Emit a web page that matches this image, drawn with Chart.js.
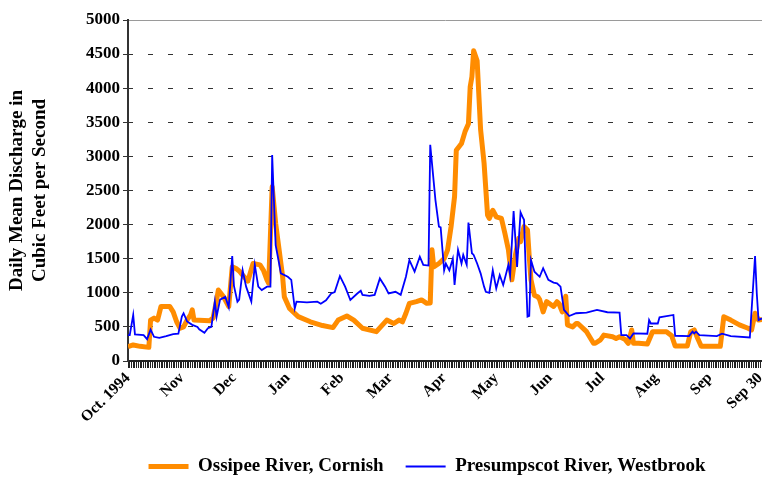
<!DOCTYPE html>
<html>
<head>
<meta charset="utf-8">
<script src="https://cdn.jsdelivr.net/npm/chart.js@4.4.1/dist/chart.umd.min.js"></script>
<style>
html, body { margin: 0; padding: 0; background: #fff; }
</style>
</head>
<body>
<canvas id="chart" width="762" height="477"></canvas>
<script>
// days counted from Oct 1 1994 (day 0) to Sep 30 1995 (day 364)
const monthDays = [0, 31, 61, 92, 123, 151, 182, 212, 243, 273, 304, 335, 364];
const monthLabels = ['Oct. 1994', 'Nov', 'Dec', 'Jan', 'Feb', 'Mar', 'Apr', 'May', 'Jun', 'Jul', 'Aug', 'Sep', 'Sep 30'];

const ossipeeDays = [0, 3, 7, 12, 13, 15, 17, 18, 19, 24, 26, 28, 30, 32, 34, 36, 37, 38, 47, 49, 51, 52, 55, 58,
    60, 62, 64, 66, 69, 72, 76, 78, 80, 81, 83, 85, 87, 89, 90, 93, 98, 105, 112, 118, 121, 126, 130, 135, 143,
    149, 153, 156, 158, 160, 162, 166, 169, 172, 174, 175, 176, 179, 182, 184, 186, 188, 189, 192, 194, 196, 197,
    198, 199, 201, 203, 205, 207, 208, 210, 212, 215, 217, 219, 221, 223, 225, 226, 228, 230, 231, 232, 234, 236,
    237, 239, 241, 245, 247, 248, 250, 252, 253, 256, 258, 259, 264, 268, 269, 272, 274, 279, 281, 283, 286, 288,
    290, 291, 294, 299, 302, 310, 313, 315, 322, 324, 326, 328, 330, 341, 343, 347, 352, 357, 359, 361, 363, 365];
const ossipeeCfs = [210, 235, 215, 200, 600, 630, 600, 700, 800, 800, 720, 575, 480, 500, 600, 675, 750, 600, 590, 630, 890, 1040, 940, 800,
    1380, 1360, 1320, 1260, 1170, 1430, 1410, 1330, 1190, 1140, 2555, 2020, 1630, 1240, 940, 770, 650, 575, 520, 490, 600, 660, 600, 480, 430,
    600, 550, 600, 575, 700, 845, 870, 895, 845, 850, 1630, 1380, 1430, 1500, 1630, 1970, 2410, 3090, 3190, 3360, 3480, 4020,
    4170, 4550, 4400, 3390, 2900, 2140, 2090, 2210, 2115, 2090, 1870, 1630, 1190, 1550, 1800, 1750, 1970, 1920, 1530, 1190, 960, 940,
    900, 720, 870, 800, 870, 845, 720, 950, 530, 500, 550, 550, 430, 260, 260, 310, 380, 355, 330, 355, 320, 260,
    455, 260, 260, 250, 430, 430, 370, 220, 220, 430, 455, 330, 215, 215, 650, 600, 530, 480, 455, 700, 600, 610];

const presumpscotDays = [0, 1, 3, 4, 9, 11, 13, 15, 18, 22, 26, 29, 31, 32, 34, 37, 40, 41, 44, 46, 48, 50, 51, 53, 56, 58,
    60, 61, 63, 64, 66, 68, 71, 73, 75, 77, 80, 82, 83, 85, 87, 88, 92, 94, 96, 97, 103, 109, 111, 114, 117, 119, 122,
    125, 128, 132, 134, 135, 139, 142, 145, 148, 150, 154, 157, 160, 162, 165, 168, 170, 173, 174, 177, 179, 180, 182,
    183, 185, 187, 188, 190, 192, 193, 195, 196, 198, 199, 201, 203, 205, 206, 208, 210, 212, 214, 216, 219, 220, 222,
    224, 226, 227, 228, 229, 230, 231, 232, 234, 237, 239, 242, 245, 247, 249, 251, 252, 254, 258, 264, 270, 276, 283,
    284, 287, 289, 291, 299, 300, 301, 305, 306, 314, 315, 323, 325, 326, 327, 329, 339, 342, 347, 358, 361, 362, 363, 365];
const presumpscotCfs = [380, 380, 675, 390, 380, 320, 460, 355, 340, 365, 395, 400, 650, 700, 580, 530, 500, 465, 415, 480, 500, 870, 650, 900, 940, 790,
    1540, 1100, 870, 900, 1330, 1090, 870, 1410, 1090, 1040, 1090, 1090, 3020, 1700, 1430, 1285, 1235, 1190, 770, 870, 860, 870, 840, 890, 990, 1010, 1245,
    1090, 895, 990, 1030, 970, 955, 970, 1210, 1090, 990, 1015, 970, 1235, 1480, 1310, 1530, 1410, 1400, 3170, 2360, 1970, 1960, 1330,
    1430, 1330, 1500, 1115, 1630, 1430, 1555, 1410, 2030, 1580, 1555, 1430, 1285, 1090, 1015, 1000, 1330, 1065, 1260, 1115, 1410, 1260, 2200,
    1380, 2180, 2120, 2070, 1300, 650, 660, 1480, 1310, 1235, 1360, 1190, 1150, 1140, 1090, 750, 720, 660, 700, 710, 750, 715, 710,
    380, 380, 330, 405, 400, 600, 550, 550, 640, 675, 370, 365, 430, 405, 430, 380, 365, 400, 365, 345, 1540, 990, 600, 625];

const yStep = 500;
const yMax = 5000;

const serif = "'Liberation Serif', 'Times New Roman', serif";
const dayLabel = {};
monthDays.forEach((d, i) => { dayLabel[d] = monthLabels[i]; });

function points(days, vals){
    return days.map((d, i) => ({x: d, y: vals[i]}));
}

function isTop(c){
    return c.tick && c.tick.value === yMax;
}

//move the legend over the plot, like the original
const legendShift = {
    id: 'legendShift',
    afterLayout(chart){
        chart.legend.left += 46;
        chart.legend.right += 46;
    }
};

new Chart(document.getElementById('chart'), {
    type: 'line',
    data: {
        datasets: [
            {label: 'Ossipee River, Cornish', data: points(ossipeeDays, ossipeeCfs), borderColor: '#ff8c00', backgroundColor: '#ff8c00',
             borderWidth: 5, pointRadius: 0, tension: 0, borderJoinStyle: 'round', order: 1},
            {label: 'Presumpscot River, Westbrook', data: points(presumpscotDays, presumpscotCfs), borderColor: '#0000ff', backgroundColor: '#0000ff',
             borderWidth: 1.8, pointRadius: 0, tension: 0, order: 0}
        ]
    },
    options: {
        responsive: false,
        animation: false,
        events: [],
        layout: {padding: {top: 20, left: 0, right: 0, bottom: -9}},
        plugins: {
            tooltip: {enabled: false},
            legend: {
                position: 'bottom',
                labels: {
                    usePointStyle: true, pointStyle: 'line', pointStyleWidth: 40, padding: 22, color: '#000',
                    font: {family: serif, size: 19, weight: 'bold'},
                    sort: (a, b) => a.datasetIndex - b.datasetIndex
                }
            }
        },
        scales: {
            x: {
                type: 'linear', min: 0, max: 365,
                afterFit: s => { s.height = 74; s.paddingLeft = 0; s.paddingRight = 0; },
                grid: {drawOnChartArea: false, drawTicks: true, tickLength: 7, color: '#222', lineWidth: 1},
                border: {display: true, color: '#222', width: 2},
                ticks: {
                    stepSize: 1, autoSkip: false, minRotation: 45, maxRotation: 45, padding: 1, color: '#000',
                    font: {family: serif, size: 15.5, weight: 'bold'},
                    callback: v => dayLabel[Math.round(v)] || ''
                }
            },
            y: {
                type: 'linear', min: 0, max: yMax,
                afterFit: s => { s.width = 128; },
                grid: {
                    display: true, drawOnChartArea: true, lineWidth: 1, tickLength: 5, tickColor: '#333',
                    color: c => isTop(c) ? '#9a9a9a' : '#333'
                },
                border: {
                    display: true, color: '#333', width: 2, dashOffset: 1,
                    dash: c => isTop(c) ? [] : [5, 15]
                },
                ticks: {stepSize: yStep, padding: 3, color: '#000', font: {family: serif, size: 17, weight: 'bold'}, callback: v => String(v)},
                title: {
                    display: true, text: ['Daily Mean Discharge in', 'Cubic Feet per Second'], color: '#000',
                    font: {family: serif, size: 19, weight: 'bold', lineHeight: 1.2}, padding: {top: 6, bottom: 0}
                }
            }
        }
    },
    plugins: [legendShift]
});
</script>
</body>
</html>
